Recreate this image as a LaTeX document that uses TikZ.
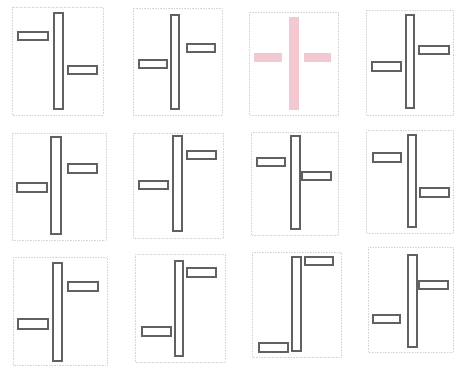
\documentclass[tikz,border=0pt]{standalone}
\begin{document}
\begin{tikzpicture}[x=1pt,y=-1pt,
  frame/.style={draw=gray!32,line width=0.6pt,densely dotted},
  bar/.style={draw=black!62,line width=1.15pt,fill=white},
  pinkbar/.style={fill={rgb,255:red,244;green,200;blue,208},draw=none}]
\useasboundingbox[fill=white] (0,0) rectangle (456,367);
% row 1
\draw[frame] (12,7) rectangle (103,115);
\draw[bar] (54,13) rectangle (63,109);
\draw[bar] (18,32) rectangle (48,40);
\draw[bar] (68,66) rectangle (97,74);

\draw[frame] (133,8) rectangle (222,115);
\draw[bar] (171,15) rectangle (179,109);
\draw[bar] (139,60) rectangle (167,68);
\draw[bar] (187,44) rectangle (215,52);

\draw[frame] (249,12) rectangle (338,115);
\fill[pinkbar] (289,17) rectangle (299,110);
\fill[pinkbar] (254,53) rectangle (282,62);
\fill[pinkbar] (304,53) rectangle (331,62);

\draw[frame] (366,10) rectangle (453,115);
\draw[bar] (406,15) rectangle (414,108);
\draw[bar] (372,62) rectangle (401,71);
\draw[bar] (419,46) rectangle (449,54);
% row 2
\draw[frame] (12,133) rectangle (106,240);
\draw[bar] (51,137) rectangle (61,234);
\draw[bar] (17,183) rectangle (47,192);
\draw[bar] (68,164) rectangle (97,173);

\draw[frame] (133,133) rectangle (223,238);
\draw[bar] (173,136) rectangle (182,231);
\draw[bar] (139,181) rectangle (168,189);
\draw[bar] (187,151) rectangle (216,159);

\draw[frame] (251,132) rectangle (338,235);
\draw[bar] (291,136) rectangle (300,229);
\draw[bar] (257,158) rectangle (285,166);
\draw[bar] (302,172) rectangle (331,180);

\draw[frame] (366,130) rectangle (453,233);
\draw[bar] (408,135) rectangle (416,227);
\draw[bar] (373,153) rectangle (401,162);
\draw[bar] (420,188) rectangle (449,197);
% row 3
\draw[frame] (13,257) rectangle (107,365);
\draw[bar] (53,263) rectangle (62,361);
\draw[bar] (18,319) rectangle (48,329);
\draw[bar] (68,282) rectangle (98,291);

\draw[frame] (135,254) rectangle (225,362);
\draw[bar] (175,261) rectangle (183,356);
\draw[bar] (142,327) rectangle (171,336);
\draw[bar] (187,268) rectangle (216,277);

\draw[frame] (252,252) rectangle (341,357);
\draw[bar] (292,257) rectangle (301,351);
\draw[bar] (259,343) rectangle (288,352);
\draw[bar] (305,257) rectangle (333,265);

\draw[frame] (368,247) rectangle (453,352);
\draw[bar] (408,255) rectangle (417,347);
\draw[bar] (373,315) rectangle (400,323);
\draw[bar] (419,281) rectangle (448,289);
\end{tikzpicture}
\end{document}
